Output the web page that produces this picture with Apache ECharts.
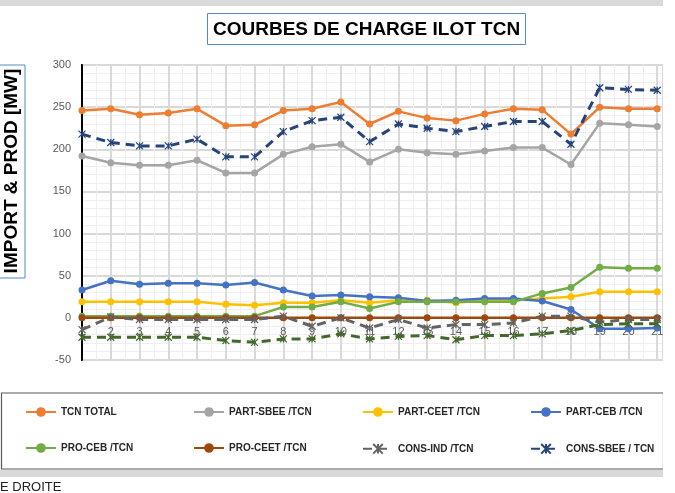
<!DOCTYPE html>
<html>
<head>
<meta charset="utf-8">
<script src="https://cdn.jsdelivr.net/npm/echarts@6/dist/echarts.min.js"></script>
<style>
  html, body { margin: 0; padding: 0; background: #fff; }
  #main { width: 675px; height: 493px; }
</style>
</head>
<body>
<div id="main"></div>
<script>
// heures (axe X)
var categories = [1, 2, 3, 4, 5, 6, 7, 8, 9, 10, 11, 12, 13, 14, 15, 16, 17, 18, 19, 20, 21];

// valeurs [MW]
var tcnTotal  = [246, 248, 241, 243, 248, 228, 229, 246, 248, 256, 230, 245, 237, 234, 242, 248, 247, 218, 250, 248, 248];
var partSbee  = [192, 184, 181, 181, 187, 172, 172, 194, 203, 206, 185, 200, 196, 194, 198, 202, 202, 182, 231, 229, 227];
var partCeet  = [19, 19, 19, 19, 19, 16, 15, 18, 18, 21, 18, 21, 21, 18, 21, 21, 23, 25, 31, 31, 31];
var partCeb   = [33, 44, 40, 41, 41, 39, 42, 33, 26, 27, 25, 24, 20, 21, 23, 23, 20, 10, -13, -13, -12];
var proCeb    = [2, 2, 2, 2, 2, 2, 2, 13, 13, 19, 11, 19, 19, 19, 19, 19, 29, 36, 60, 59, 59];
var proCeet   = [0, 0, 0, 0, 0, 0, 0, 0, 0, 0, 0, 0, 0, 0, 0, 0, 0, 0, 0, 0, 0];
var consInd   = [-14, 1, -2, -2, -2, -2, -2, 2, -10, 0, -12, -2, -12, -8, -8, -6, 2, 2, -5, -2, -2];
var consSbee  = [218, 208, 204, 204, 212, 191, 191, 221, 234, 238, 209, 230, 225, 221, 227, 233, 233, 206, 273, 271, 270];
// série sans légende visible (coupée à droite)
var serie9    = [-23, -23, -23, -23, -23, -27, -29, -25, -25, -19, -25, -22, -21, -26, -21, -21, -19, -15, -8, -7, -7];

var yTicks = { min: -50, max: 300, interval: 50 };

var FONT = 'Liberation Sans, Arial, sans-serif';
var CROSS = 'path://M0,0L10,10M10,0L0,10M5,0L5,10';

function pts(vals) {
  return categories.map(function (c, i) { return [c, vals[i]]; });
}

function solid(name, vals, color) {
  return {
    name: name, type: 'line', data: pts(vals),
    symbol: 'circle', symbolSize: 7,
    itemStyle: { color: color },
    lineStyle: { color: color, width: 2.5 }
  };
}

function dashed(name, vals, color) {
  return {
    name: name, type: 'line', data: pts(vals),
    symbol: CROSS, symbolSize: 7,
    itemStyle: { color: color, borderColor: color, borderWidth: 1.2 },
    lineStyle: { color: color, width: 3, type: [9, 6] }
  };
}

var chart = echarts.init(document.getElementById('main'));

var legendText = { fontFamily: FONT, fontWeight: 'bold', fontSize: 10, color: '#262626' };
function legendCol(left, names) {
  return {
    orient: 'vertical', left: left, top: 407, padding: 0,
    itemWidth: 30, itemHeight: 12, itemGap: 26,
    textStyle: legendText, data: names
  };
}

var option = {
  animation: false,
  title: {
    text: 'COURBES DE CHARGE ILOT TCN',
    left: 207, top: 13,
    padding: [7, 6, 6, 6],
    borderColor: '#4f8ccc', borderWidth: 1,
    textStyle: { fontFamily: FONT, fontWeight: 'bold', fontSize: 19, color: '#000' }
  },
  legend: [
    legendCol(25, ['TCN TOTAL', 'PRO-CEB /TCN']),
    legendCol(193, ['PART-SBEE /TCN', 'PRO-CEET /TCN']),
    legendCol(362, ['PART-CEET /TCN', 'CONS-IND /TCN']),
    legendCol(530, ['PART-CEB /TCN', 'CONS-SBEE / TCN'])
  ],
  grid: {
    left: 82, top: 65, right: 12, bottom: 133,
    show: true, borderColor: '#000', borderWidth: 2
  },
  xAxis: {
    type: 'value', min: 1, max: 21.2, interval: 1,
    // étiquettes posées sur la ligne du zéro, comme dans Excel
    offset: -43,
    axisLine: { show: false },
    axisTick: { show: false },
    axisLabel: {
      color: '#595959', fontSize: 11, margin: 9, showMaxLabel: false,
      formatter: function (v) { return Number.isInteger(v) ? String(v) : ''; }
    },
    splitLine: { show: true, lineStyle: { color: '#d9d9d9', width: 2 } },
    minorTick: { show: false, splitNumber: 2 },
    minorSplitLine: { show: true, lineStyle: { color: '#efefef', width: 1 } }
  },
  yAxis: {
    type: 'value', min: yTicks.min, max: yTicks.max, interval: yTicks.interval,
    axisLine: { show: true, onZero: false, lineStyle: { color: '#000', width: 2 } },
    axisTick: { show: false },
    axisLabel: { color: '#595959', fontSize: 11, margin: 11 },
    splitLine: { show: true, lineStyle: { color: '#d9d9d9', width: 2 } },
    minorTick: { show: false, splitNumber: 5 },
    minorSplitLine: { show: true, lineStyle: { color: '#efefef', width: 1 } }
  },
  series: [
    solid('TCN TOTAL', tcnTotal, '#ed7d31'),
    solid('PART-SBEE /TCN', partSbee, '#a5a5a5'),
    solid('PART-CEET /TCN', partCeet, '#ffc000'),
    solid('PART-CEB /TCN', partCeb, '#4472c4'),
    solid('PRO-CEB /TCN', proCeb, '#70ad47'),
    solid('PRO-CEET /TCN', proCeet, '#9e480e'),
    dashed('CONS-IND /TCN', consInd, '#636363'),
    dashed('CONS-SBEE / TCN', consSbee, '#264478'),
    dashed('SERIE 9', serie9, '#43682b')
  ],
  graphic: [
    // bande grise en haut
    { type: 'rect', shape: { x: 0, y: 0, width: 663, height: 6 }, style: { fill: '#d9d9d9' }, z: 1 },
    // cadre du titre de l'axe Y
    { type: 'rect', shape: { x: -5, y: 65, width: 30, height: 213 },
      style: { fill: '#fff', stroke: '#4f8ccc', lineWidth: 1 }, z: 1 },
    { type: 'text', x: 12, y: 171, rotation: Math.PI / 2, z: 2,
      style: { text: 'IMPORT & PROD [MW]', fontFamily: FONT, fontWeight: 'bold', fontSize: 19,
               fill: '#000', align: 'center', verticalAlign: 'middle' } },
    // cadre de la légende
    { type: 'rect', shape: { x: 1.5, y: 393, width: 662, height: 76 },
      style: { fill: 'transparent', stroke: '#595959', lineWidth: 1.2 }, z: 1 },
    // bande grise en bas
    { type: 'rect', shape: { x: 0, y: 470, width: 663, height: 7 }, style: { fill: '#d9d9d9' }, z: 1 },
    { type: 'text', x: 0, y: 487, z: 2,
      style: { text: 'E DROITE', fontFamily: FONT, fontSize: 13,
               fill: '#222', verticalAlign: 'middle' } },
    // bord droit coupé
    { type: 'rect', shape: { x: 663, y: 0, width: 12, height: 493 }, style: { fill: '#fff' }, z: 100 }
  ]
};

chart.setOption(option);
</script>
</body>
</html>
